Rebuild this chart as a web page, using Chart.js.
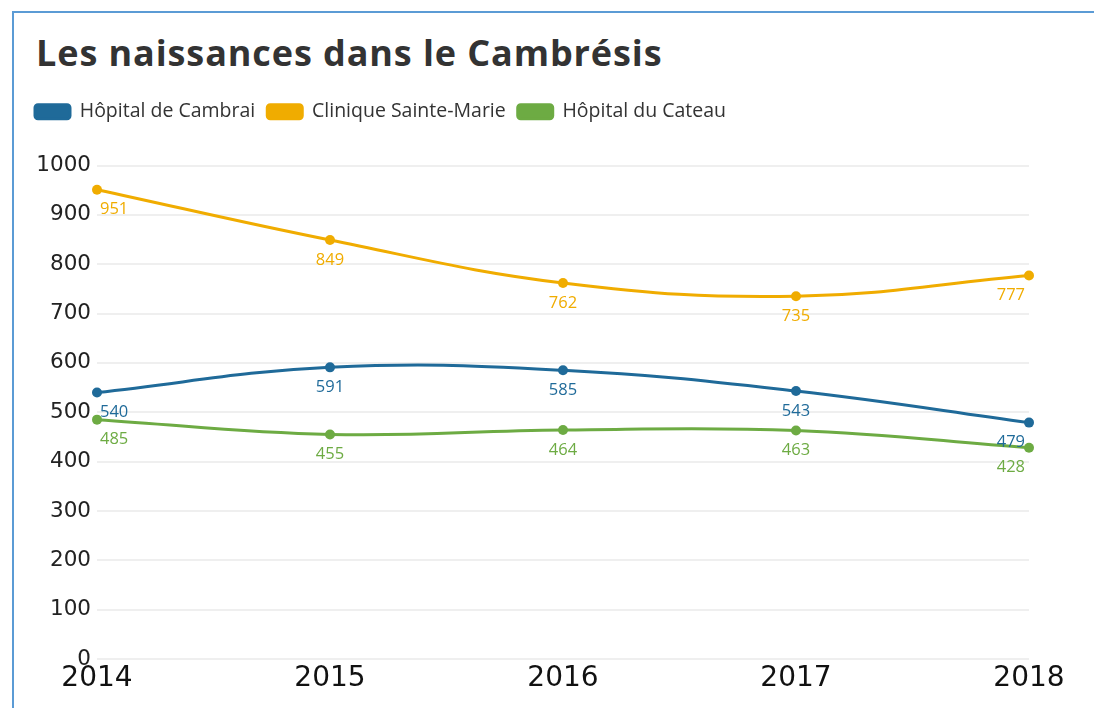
<!DOCTYPE html>
<html>
<head>
<meta charset="utf-8">
<script src="https://cdn.jsdelivr.net/npm/chart.js@4.4.0/dist/chart.umd.min.js"></script>
<style>
  html, body { margin: 0; padding: 0; background: #fff; }
  #wrap { position: relative; width: 1094px; height: 708px; overflow: hidden; }
  #frame {
    position: absolute; left: 12px; top: 11px; right: -10px; bottom: -10px;
    border-left: 2px solid #5b9bd5; border-top: 2px solid #5b9bd5;
    pointer-events: none;
  }
  #title {
    position: absolute; left: 36px; top: 31px; margin: 0;
    font-family: "Open Sans", sans-serif; font-weight: bold; font-size: 36px;
    letter-spacing: 0.9px; line-height: 1.2; color: #333;
  }
  canvas { position: absolute; left: 0; top: 0; }
</style>
</head>
<body>
<div id="wrap">
  <div id="frame"></div>
  <h1 id="title">Les naissances dans le Cambrésis</h1>
  <canvas id="chart" width="1094" height="708"></canvas>
</div>
<script>
const years = ["2014", "2015", "2016", "2017", "2018"];
const cambrai = [540, 591, 585, 543, 479];
const sainteMarie = [951, 849, 762, 735, 777];
const cateau = [485, 455, 464, 463, 428];

const seriesNames = ["Hôpital de Cambrai", "Clinique Sainte-Marie", "Hôpital du Cateau"];
const seriesColors = ["#1f6a99", "#f0ac00", "#6dab43"];

// Value labels under each point
const pointLabels = {
    id: "pointLabels",
    afterDatasetsDraw(chart) {
        const ctx = chart.ctx;
        ctx.save();
        ctx.font = "16.5px 'Open Sans', sans-serif";
        ctx.textBaseline = "middle";
        chart.data.datasets.forEach((ds, i) => {
            const meta = chart.getDatasetMeta(i);
            const n = meta.data.length;
            meta.data.forEach((pt, j) => {
                let dx = 0;
                ctx.textAlign = "center";
                if (j === 0) { ctx.textAlign = "left"; dx = 3; }
                if (j === n - 1) { ctx.textAlign = "right"; dx = -4; }
                ctx.fillStyle = ds.borderColor;
                ctx.fillText(ds.data[j], pt.x + dx, pt.y + 20);
            });
        });
        ctx.restore();
    }
};

const allSeries = [cambrai, sainteMarie, cateau];

const datasets = allSeries.map((values, i) => ({
    label: seriesNames[i],
    data: values,
    borderColor: seriesColors[i],
    backgroundColor: seriesColors[i],
    borderWidth: 3,
    pointRadius: 5,
    pointBorderWidth: 0,
    pointBackgroundColor: seriesColors[i],
    tension: 0.4,
    clip: false
}));

new Chart(document.getElementById("chart"), {
    type: "line",
    data: { labels: years, datasets: datasets },
    options: {
        responsive: false,
        animation: false,
        layout: { padding: { left: 23, right: 65, top: 90, bottom: 9 } },
        plugins: {
            title: { display: false },
            // empty spacer between legend and plot
            subtitle: {
                display: true,
                text: "",
                weight: 500,
                font: { size: 10, lineHeight: 1 },
                padding: { top: 0, bottom: 24 }
            },
            tooltip: { enabled: false },
            legend: {
                align: "start",
                labels: {
                    boxWidth: 35,
                    boxHeight: 14,
                    useBorderRadius: true,
                    borderRadius: 3,
                    padding: 12,
                    color: "#333",
                    font: { family: "Open Sans", size: 19.5 }
                }
            }
        },
        scales: {
            x: {
                grid: { display: false, drawTicks: false },
                border: { display: false },
                ticks: {
                    padding: 3,
                    color: "#111",
                    font: { family: "DejaVu Sans", size: 28 }
                },
                afterFit(scale) { scale.height = 40; }
            },
            y: {
                min: 0,
                max: 1000,
                grid: { color: "#efefef", lineWidth: 2, drawTicks: false },
                border: { display: false },
                ticks: {
                    stepSize: 100,
                    padding: 6,
                    color: "#222",
                    font: { family: "DejaVu Sans", size: 21.5 },
                    callback: (v) => String(v)
                },
                afterFit(scale) { scale.width = 74; }
            }
        }
    },
    plugins: [pointLabels]
});
</script>
</body>
</html>
